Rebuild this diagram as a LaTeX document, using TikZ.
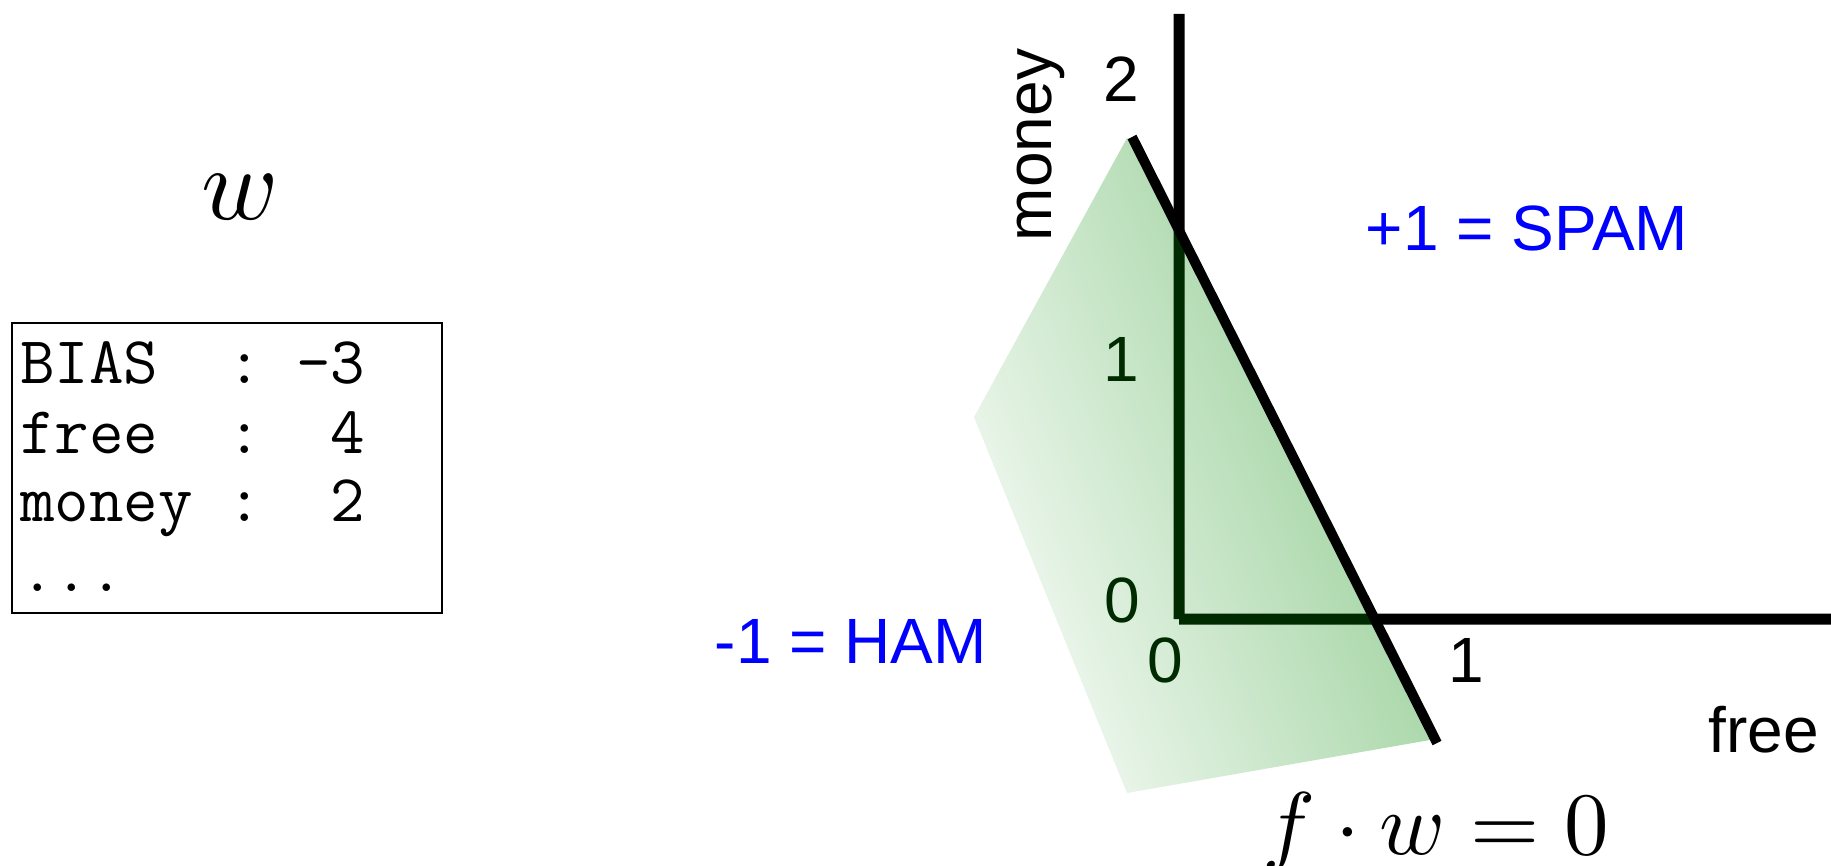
\documentclass[tikz,border=0pt]{standalone}
\usepackage{fontspec}
\usepackage{graphicx}
\newfontfamily\arialf{Liberation Sans}
\definecolor{clsblue}{RGB}{0,0,255}
\definecolor{gL}{RGB}{240,248,240}
\definecolor{gR}{RGB}{150,206,150}
\definecolor{darkg}{RGB}{0,42,0}
\pgfdeclarehorizontalshading{greenfade}{100bp}{color(0bp)=(gL); color(27bp)=(gL); color(72bp)=(gR); color(100bp)=(gR)}
\begin{document}
\begin{tikzpicture}[x=0.5pt,y=-0.5pt,
  axisline/.style={line width=5.5pt, line cap=butt},
  sepline/.style={line width=5pt, line cap=butt},
  lab/.style={font=\arialf\fontsize{32}{38}\selectfont, inner sep=0pt, anchor=base},
  cls/.style={lab, text=clsblue},
  ttline/.style={font=\ttfamily\fontsize{33.5}{40}\selectfont, inner sep=0pt, anchor=base west},
]
\useasboundingbox (0,0) rectangle (1831,866);

% weight vector
\node[inner sep=0pt] (wlabel) at (240,197) {\scalebox{5.2}{$w$}};
\node[draw, line width=1pt, minimum width=215pt, minimum height=145pt, inner sep=0pt] (wbox) at (227,468) {};
\node[ttline] (r1) at (20,383) {BIAS\ \ :\ -3};
\node[ttline] (r2) at (20,453) {free\ \ :\ \ 4};
\node[ttline] (r3) at (20,521) {money\ :\ \ 2};
\node[ttline] (r4) at (20,591) {...};

% geometry
\coordinate (O) at (1179,619);
\coordinate (Ytop) at (1179,14);
\coordinate (Xend) at (1831,619);
\coordinate (Lt) at (1132,137);
\coordinate (Lb) at (1437,743);
\coordinate (Cy) at (intersection of Lt--Lb and O--Ytop);
\coordinate (Cx) at (intersection of Lt--Lb and O--Xend);
\coordinate (P1) at (1127,138);
\coordinate (P2) at (974,417);
\coordinate (P3) at (1127,793);
\coordinate (P4) at (1430,740);

% shaded half-plane
\shade[shading=greenfade, shading angle=22] (P1) -- (P2) -- (P3) -- (P4) -- cycle;

% axes
\draw[axisline] (Ytop) -- (Cy);
\draw[axisline, darkg] (Cy) -- (O);
\draw[axisline, darkg] (O) -- (Cx);
\draw[axisline] (Cx) -- (Xend);

% tick labels
\node[lab] (y2) at (1121,102) {2};
\node[lab, text=darkg] (y1) at (1121,381) {1};
\node[lab, text=darkg] (y0) at (1122,622) {0};
\node[lab, text=darkg] (x0) at (1165,682) {0};
\node[lab] (x1) at (1466,682) {1};
\node[lab] (xname) at (1764,752) {free};
\node[lab, rotate=90] (yname) at (1051,145) {money};

% decision boundary
\draw[sepline] (Lt) -- (Lb);

% class labels
\node[cls] (spam) at (1527,251) {+1 = SPAM};
\node[cls] (ham) at (851,663) {-1 = HAM};
\node[inner sep=0pt, anchor=base west] (eq) at (1262,854) {\scalebox{4.45}{$f\cdot w = 0$}};
\end{tikzpicture}
\end{document}
